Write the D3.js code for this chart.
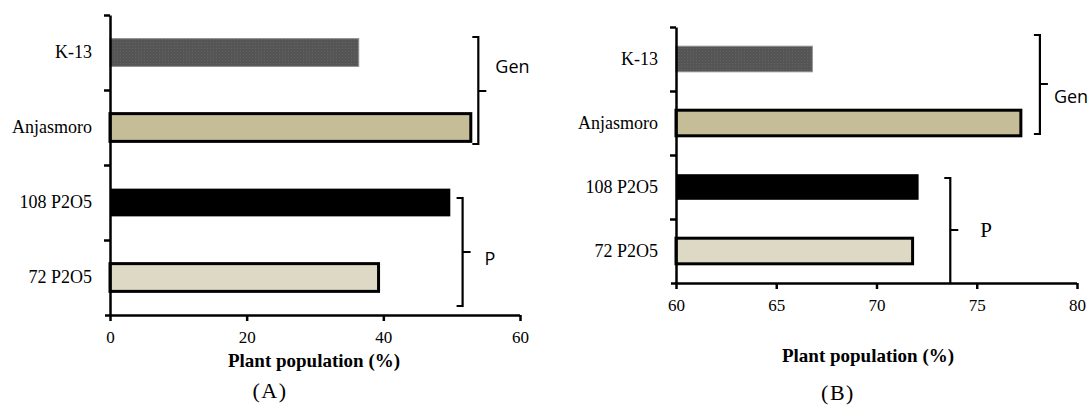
<!DOCTYPE html>
<html>
<head>
<meta charset="utf-8">
<script src="https://cdn.jsdelivr.net/npm/d3@7"></script>
<style>
  body { margin: 0; background: #fff; }
</style>
</head>
<body>
<div id="chart"></div>
<script>
// categories and values
const categories = ["K-13", "Anjasmoro", "108 P2O5", "72 P2O5"];
const valuesA = [36.4, 52.8, 49.8, 39.3];
const valuesB = [66.8, 77.2, 72.1, 71.8];
const ticksA = [0, 20, 40, 60];
const ticksB = [60, 65, 70, 75, 80];
const groupLabels = ["Gen", "P"];
const panelLabels = ["(A)", "(B)"];
const axisTitle = "Plant population (%)";

const fills = ["url(#stipple)", "#c4bd97", "#000000", "#ddd9c4"];
const outlined = [false, true, false, true];
const SERIF = "'Liberation Serif', 'Times New Roman', serif";
const SANS = "'Open Sans', 'Liberation Sans', sans-serif";

const svg = d3.select("#chart").append("svg")
  .attr("width", 1090)
  .attr("height", 405);

svg.append("rect").attr("width", 1090).attr("height", 405).attr("fill", "#fff");

// dotted dark grey fill of the K-13 bar
const pat = svg.append("defs").append("pattern")
  .attr("id", "stipple")
  .attr("width", 3).attr("height", 3)
  .attr("patternUnits", "userSpaceOnUse");
pat.append("rect").attr("width", 3).attr("height", 3).attr("fill", "#555555");
pat.append("rect").attr("width", 1).attr("height", 1).attr("fill", "#646464");

function drawPanel(cfg) {
  const g = svg.append("g");

  const x = d3.scaleLinear()
    .domain(cfg.domain)
    .range([cfg.left, cfg.right]);

  const y = d3.scaleBand()
    .domain(categories)
    .range([cfg.top, cfg.bottom])
    .paddingInner(cfg.pad)
    .paddingOuter(cfg.pad / 2);

  // bars
  g.selectAll("rect.bar")
    .data(categories.map((c, i) => ({ c: c, v: cfg.values[i], i: i })))
    .join("rect")
      .attr("class", "bar")
      .attr("x", x(cfg.domain[0]))
      .attr("y", d => y(d.c))
      .attr("width", d => x(d.v) - x(cfg.domain[0]))
      .attr("height", y.bandwidth())
      .attr("fill", d => fills[d.i])
      .attr("stroke", d => outlined[d.i] ? "#000" : (d.i === 0 ? "#8f8f8f" : "none"))
      .attr("stroke-width", d => outlined[d.i] ? 3 : 1);

  // x axis
  const xAxis = g.append("g")
    .attr("transform", `translate(0,${cfg.bottom})`)
    .call(d3.axisBottom(x)
      .tickValues(cfg.ticks)
      .tickSizeInner(6)
      .tickSizeOuter(0)
      .tickPadding(10));
  xAxis.select(".domain").attr("stroke-width", 2.5)
    .attr("d", `M${cfg.left - 5},0.5H${cfg.right}`);
  xAxis.selectAll(".tick line").attr("stroke-width", 2.5);
  xAxis.selectAll(".tick text")
    .style("font-family", SERIF)
    .style("font-size", "17px");

  // y axis: ticks between the bars
  const yEdge = d3.scaleLinear().domain([0, categories.length]).range([cfg.top, cfg.bottom]);
  const yAxis = g.append("g")
    .attr("transform", `translate(${cfg.left},0)`)
    .call(d3.axisLeft(yEdge)
      .tickValues(d3.range(0, categories.length))
      .tickFormat("")
      .tickSizeInner(6)
      .tickSizeOuter(0));
  yAxis.select(".domain").attr("stroke-width", 2.5);
  yAxis.selectAll(".tick line").attr("stroke-width", 2.5);

  // category labels
  const yLab = g.append("g")
    .attr("transform", `translate(${cfg.left},0)`)
    .call(d3.axisLeft(y).tickSize(0).tickPadding(18));
  yLab.select(".domain").remove();
  yLab.selectAll(".tick text")
    .style("font-family", SERIF)
    .style("font-size", "18px");

  // group brackets
  cfg.brackets.forEach((b, i) => {
    const bx = x(b.at);
    const path = d3.path();
    path.moveTo(bx - 6, b.y0);
    path.lineTo(bx, b.y0);
    path.lineTo(bx, b.y1);
    if (b.closed) path.lineTo(bx - 6, b.y1);
    path.moveTo(bx, b.ym);
    path.lineTo(bx + 8, b.ym);
    g.append("path")
      .attr("d", path.toString())
      .attr("fill", "none")
      .attr("stroke", "#000")
      .attr("stroke-width", 2.2);
    g.append("text")
      .attr("x", bx + b.dx)
      .attr("y", b.ty)
      .attr("dominant-baseline", "middle")
      .style("font-family", b.serif ? SERIF : SANS)
      .style("font-size", b.serif ? "21px" : "18px")
      .text(groupLabels[i]);
  });

  // axis title and panel label
  g.append("text")
    .attr("x", cfg.titleX)
    .attr("y", cfg.titleY)
    .attr("text-anchor", "middle")
    .attr("dominant-baseline", "middle")
    .style("font-family", SERIF)
    .style("font-size", "19px")
    .style("font-weight", "bold")
    .text(axisTitle);

  g.append("text")
    .attr("x", cfg.labelX)
    .attr("y", cfg.labelY)
    .attr("text-anchor", "middle")
    .attr("dominant-baseline", "middle")
    .style("font-family", SERIF)
    .style("font-size", "22px")
    .style("letter-spacing", "1.5px")
    .text(cfg.label);
}

drawPanel({
  domain: [0, 60], ticks: ticksA, values: valuesA,
  left: 110, right: 520, top: 15, bottom: 315, pad: 0.63,
  brackets: [
    { at: 53.9, y0: 37, y1: 144, ym: 91, closed: true, dx: 17, ty: 68, serif: false },
    { at: 51.6, y0: 198, y1: 306, ym: 252, closed: true, dx: 22, ty: 260, serif: false }
  ],
  titleX: 314, titleY: 363, labelX: 270, labelY: 393, label: panelLabels[0]
});

drawPanel({
  domain: [60, 80], ticks: ticksB, values: valuesB,
  left: 676, right: 1077, top: 27, bottom: 283, pad: 0.6,
  brackets: [
    { at: 78.15, y0: 35, y1: 134, ym: 84, closed: true, dx: 14, ty: 98, serif: false },
    { at: 73.68, y0: 178, y1: 283, ym: 230, closed: false, dx: 30, ty: 232, serif: true }
  ],
  titleX: 868, titleY: 358, labelX: 838, labelY: 395, label: panelLabels[1]
});
</script>
</body>
</html>
